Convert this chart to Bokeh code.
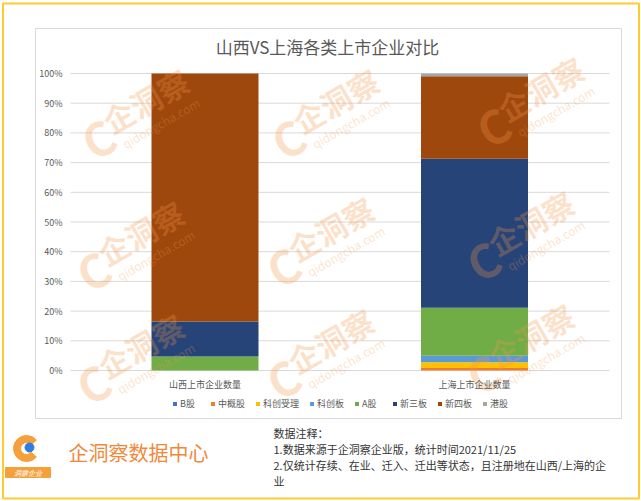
from bokeh.plotting import figure
from bokeh.models import (Legend, LegendItem, Range1d, FixedTicker,
                          CustomJSTickFormatter)
from bokeh.core.properties import value
from bokeh.embed import file_html
from bokeh.resources import INLINE

# ---------------- data ----------------
categories = ["山西上市企业数量", "上海上市企业数量"]
series_names = ["B股", "中概股", "科创受理", "科创板", "A股", "新三板", "新四板", "港股"]
b_gu = [0.0, 0.0]
zhonggai = [0.0, 0.8]
kechuang_shouli = [0.0, 2.0]
kechuang_ban = [0.0, 2.2]
a_gu = [4.7, 16.1]
xin_san_ban = [11.8, 50.2]
xin_si_ban = [83.5, 27.8]
gang_gu = [0.0, 0.9]
y_ticks = [0, 10, 20, 30, 40, 50, 60, 70, 80, 90, 100]
title_text = "山西VS上海各类上市企业对比"
brand_text = "企洞察数据中心"
notes = ["数据注释：",
         "1.数据来源于企洞察企业版，统计时间2021/11/25",
         "2.仅统计存续、在业、迁入、迁出等状态，且注册地在山西/上海的企",
         "业"]

colors = ["#4472C4", "#ED7D31", "#FFC000", "#5B9BD5", "#70AD47",
          "#264478", "#9E480E", "#A5A5A5"]

# ---------------- layout constants (pixels) ----------------
W, H = 641, 501
PLOT_L, PLOT_R, PLOT_T, PLOT_B = 70, 609, 73, 370   # plot area
CAT_PX = [204.5, 474.0]                              # category centres
FONT = "Noto Sans CJK SC"

unit = CAT_PX[1] - CAT_PX[0]
x0 = -CAT_PX[0] / unit
x1 = x0 + W / unit
ppu = (PLOT_B - PLOT_T) / 100.0
y0 = -(H - PLOT_B) / ppu
y1 = 100 + PLOT_T / ppu


def xd(px):
    return x0 + px / unit


p = figure(width=W, height=H, x_range=Range1d(x0, x1), y_range=Range1d(y0, y1),
           output_backend="svg", toolbar_location=None, min_border=0)
p.title.visible = False
p.background_fill_color = "white"
p.border_fill_color = "white"
p.outline_line_color = None
p.grid.visible = False
p.extra_x_ranges = {"px": Range1d(0, W)}
p.extra_y_ranges = {"px": Range1d(H, 0)}
PX = dict(x_range_name="px", y_range_name="px")

# chart box and outer border
p.rect(x=[W / 2], y=[H / 2], width=[636], height=[495], fill_alpha=0,
       line_color="#FFCB33", line_width=2, **PX)
p.rect(x=[328], y=[223], width=[586], height=[390], fill_alpha=0,
       line_color="#D9D9D9", line_width=1, **PX)

# gridlines
p.segment(x0=[xd(PLOT_L)] * len(y_ticks), y0=y_ticks,
          x1=[xd(PLOT_R)] * len(y_ticks), y1=y_ticks,
          line_color="#D9D9D9", line_width=1)

# stacked bars
src = dict(x=list(range(len(categories))))
keys = ["s%d" % i for i in range(len(series_names))]
for k, arr in zip(keys, [b_gu, zhonggai, kechuang_shouli, kechuang_ban, a_gu,
                         xin_san_ban, xin_si_ban, gang_gu]):
    src[k] = arr
rs = p.vbar_stack(keys, x="x", width=107 / unit, color=colors, source=src,
                  line_color=None)

# axes (fixed inside the canvas)
p.yaxis.fixed_location = xd(PLOT_L)
p.yaxis.ticker = FixedTicker(ticks=y_ticks)
p.yaxis.formatter = CustomJSTickFormatter(code="return tick + '%'")
p.yaxis.axis_line_color = None
p.yaxis.major_tick_line_color = None
p.yaxis.minor_tick_line_color = None
p.yaxis.major_tick_out = 0
p.yaxis.major_tick_in = 0
p.yaxis.major_label_text_font = FONT
p.yaxis.major_label_text_font_size = "9px"
p.yaxis.major_label_text_color = "#595959"
p.yaxis.major_label_standoff = 8

p.xaxis.fixed_location = 0
p.xaxis.ticker = FixedTicker(ticks=list(range(len(categories))))
p.xaxis.major_label_overrides = {i: c for i, c in enumerate(categories)}
p.xaxis.axis_line_color = None
p.xaxis.major_tick_line_color = None
p.xaxis.minor_tick_line_color = None
p.xaxis.major_tick_out = 0
p.xaxis.major_tick_in = 0
p.xaxis.major_label_text_font = FONT
p.xaxis.major_label_text_font_size = "9px"
p.xaxis.major_label_text_color = "#595959"
p.xaxis.major_label_standoff = 7

# legend
items = [LegendItem(label=n, renderers=[r]) for n, r in zip(series_names, rs)]
leg = Legend(items=items, orientation="horizontal", location=(172, H - 410),
             glyph_width=5, glyph_height=5, label_text_font=FONT,
             label_text_font_size="9px", label_text_color="#595959",
             label_standoff=3, spacing=10, padding=0, margin=0,
             border_line_color=None, background_fill_alpha=0,
             label_height=12)
p.add_layout(leg, "center")

# title
p.text(x=[327], y=[46], text=[title_text], text_align="center",
       text_baseline="middle", text_font=value(FONT), text_font_size="17px",
       text_color="#595959", **PX)

# watermarks
wm_pos = [(145, 100), (335, 100), (540, 88),
          (140, 232), (330, 228), (530, 222),
          (140, 345), (330, 340), (530, 335)]
wm_x, wm_y, c_x, c_y, q_x, q_y = [], [], [], [], [], []
for cx, cy in wm_pos:
    wm_x.append(cx); wm_y.append(cy)
    c_x.append(cx - 0.866 * 60 + 0.5 * 8); c_y.append(cy + 0.5 * 60 + 0.866 * 8)
    q_x.append(cx + 0.5 * 27 + 0.866 * 2); q_y.append(cy + 0.866 * 27 - 0.5 * 2)
wm_kw = dict(angle=0.52, text_align="center", text_baseline="middle",
             text_font=value(FONT), text_color="#F79646", text_alpha=0.28, **PX)
p.text(x=wm_x, y=wm_y, text=["企洞察"] * len(wm_x), text_font_size="31px",
       text_font_style="bold", **wm_kw)
p.text(x=c_x, y=c_y, text=["C"] * len(c_x), text_font_size="46px",
       text_font_style="bold", **wm_kw)
p.text(x=q_x, y=q_y, text=["qidongcha.com"] * len(q_x), text_font_size="12px",
       **wm_kw)

# footer
p.text(x=[68], y=[452], text=[brand_text], text_align="left",
       text_baseline="middle", text_font=value(FONT), text_font_size="20px",
       text_color="#F0893C", **PX)
p.text(x=[273] * len(notes), y=[432 + i * 16.3 for i in range(len(notes))],
       text=notes, text_align="left", text_baseline="middle",
       text_font=value(FONT), text_font_size="11px", text_color="#333333", **PX)

# logo
p.annular_wedge(x=[26], y=[448], inner_radius=6, outer_radius=13,
                start_angle=0.7, end_angle=5.58, color="#F5A03A", **PX)
p.circle(x=[29], y=[447], radius=4.5, color="#2F7DE1", **PX)
p.rect(x=[27.5], y=[472], width=[45], height=[10], color="#F5A03A", **PX)
p.text(x=[27.5], y=[472], text=["洞察企业"], text_align="center",
       text_baseline="middle", text_font=value(FONT), text_font_size="7px",
       text_font_style="italic", text_color="white", **PX)

open("out.html", "w").write(file_html(p, INLINE))
